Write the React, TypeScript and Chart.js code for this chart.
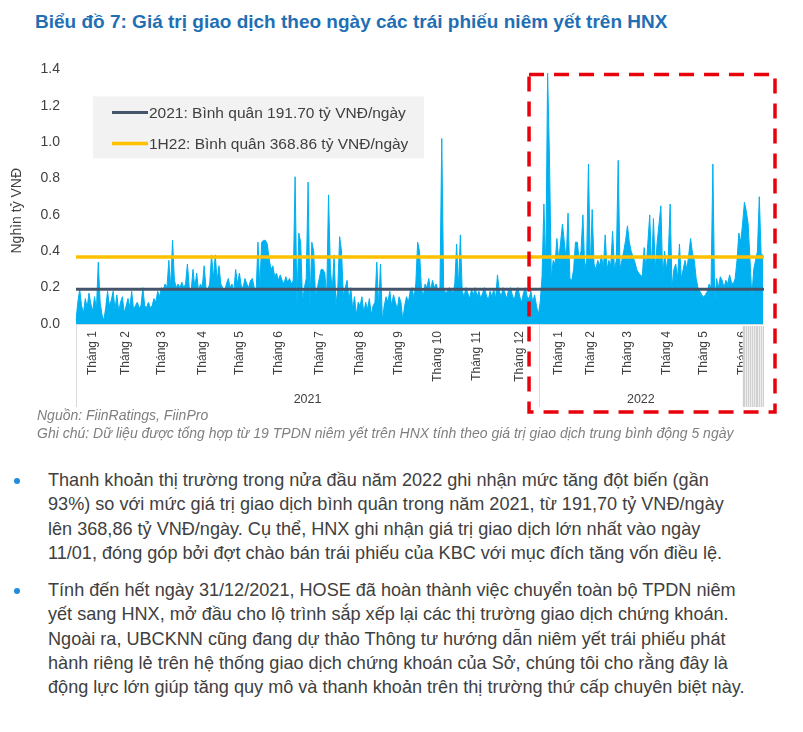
import React, { useEffect, useRef } from 'react';
import { Chart, registerables } from 'chart.js';

Chart.register(...registerables);

const FONT = '"Liberation Sans", Arial, Helvetica, sans-serif';

// ---- data (Nghìn tỷ VNĐ, 5-day moving average, one value per trading day) ----
const monthNames = ['Tháng 1', 'Tháng 2', 'Tháng 3', 'Tháng 4', 'Tháng 5', 'Tháng 6', 'Tháng 7', 'Tháng 8', 'Tháng 9', 'Tháng 10', 'Tháng 11', 'Tháng 12'];
const yearNames = ['2021', '2022'];

const jan21 = [0.02, 0.12, 0.19, 0.1, 0.06, 0.14, 0.09, 0.17, 0.11, 0.07, 0.15, 0.08, 0.34, 0.12, 0.05, 0.02, 0.09, 0.18, 0.1, 0.13];
const feb21 = [0.18, 0.08, 0.16, 0.07, 0.12, 0.15, 0.06, 0.1, 0.14, 0.09, 0.18, 0.08, 0.1, 0.12, 0.09];
const mar21 = [0.1, 0.2, 0.1, 0.09, 0.12, 0.09, 0.1, 0.14, 0.12, 0.18, 0.15, 0.2, 0.19, 0.22, 0.2, 0.35, 0.2, 0.46, 0.24, 0.2, 0.22, 0.2, 0.23];
const apr21 = [0.2, 0.22, 0.33, 0.2, 0.18, 0.3, 0.2, 0.28, 0.18, 0.22, 0.2, 0.32, 0.2, 0.19, 0.22, 0.38, 0.25, 0.38, 0.24, 0.32, 0.22];
const may21 = [0.2, 0.18, 0.22, 0.25, 0.2, 0.22, 0.18, 0.3, 0.22, 0.28, 0.21, 0.2, 0.25, 0.22, 0.2, 0.24, 0.25, 0.2, 0.17, 0.45];
const jun21 = [0.2, 0.45, 0.46, 0.46, 0.44, 0.36, 0.3, 0.32, 0.26, 0.28, 0.24, 0.27, 0.24, 0.22, 0.26, 0.23, 0.25, 0.22, 0.24, 0.81, 0.1, 0.5];
const jul21 = [0.45, 0.12, 0.2, 0.25, 0.78, 0.1, 0.45, 0.4, 0.15, 0.2, 0.25, 0.3, 0.3, 0.28, 0.14, 0.71, 0.3, 0.18, 0.38, 0.1, 0.2, 0.48];
const aug21 = [0.4, 0.15, 0.2, 0.24, 0.13, 0.2, 0.08, 0.15, 0.05, 0.12, 0.1, 0.15, 0.06, 0.12, 0.08, 0.14, 0.05, 0.1, 0.12, 0.34, 0.1, 0.33];
const sep21 = [0.02, 0.1, 0.15, 0.12, 0.18, 0.1, 0.16, 0.12, 0.08, 0.15, 0.12, 0.02, 0.1, 0.15, 0.12, 0.18, 0.2, 0.14, 0.22, 0.45];
const oct21 = [0.4, 0.2, 0.15, 0.22, 0.2, 0.25, 0.18, 0.24, 0.2, 0.22, 0.18, 0.19, 1.02, 0.2, 0.17, 0.18, 0.2, 0.19, 0.17, 0.22, 0.44];
const nov21 = [0.2, 0.49, 0.18, 0.15, 0.2, 0.17, 0.14, 0.19, 0.16, 0.2, 0.15, 0.18, 0.14, 0.17, 0.2, 0.16, 0.13, 0.18, 0.15, 0.19, 0.14, 0.27];
const dec21 = [0.18, 0.15, 0.2, 0.17, 0.14, 0.19, 0.2, 0.16, 0.13, 0.18, 0.2, 0.15, 0.12, 0.17, 0.2, 0.15, 0.14, 0.18, 0.12, 0.16, 0.1, 0.05, 0.12];

const jan22 = [0.26, 0.66, 0.3, 1.38, 0.91, 0.25, 0.35, 0.33, 0.47, 0.35, 0.45, 0.55, 0.45, 0.35, 0.61, 0.25, 0.24, 0.3, 0.45];
const feb22 = [0.45, 0.35, 0.4, 0.6, 0.3, 0.35, 0.88, 0.3, 0.63, 0.33, 0.3, 0.35, 0.32, 0.38, 0.3, 0.49];
const mar22 = [0.3, 0.35, 0.32, 0.51, 0.3, 0.35, 0.9, 0.3, 0.35, 0.4, 0.46, 0.54, 0.45, 0.4, 0.37, 0.34, 0.3, 0.28, 0.27, 0.26, 0.42, 0.3, 0.45];
const apr22 = [0.6, 0.3, 0.58, 0.3, 0.45, 0.55, 0.65, 0.25, 0.4, 0.3, 0.38, 0.66, 0.2, 0.3, 0.33, 0.25, 0.44, 0.25, 0.3, 0.35];
const may22 = [0.3, 0.38, 0.47, 0.39, 0.35, 0.25, 0.2, 0.18, 0.16, 0.15, 0.16, 0.18, 0.22, 0.2, 0.88, 0.12, 0.25, 0.2, 0.26, 0.24];
const jun22 = [0.2, 0.24, 0.22, 0.27, 0.23, 0.22, 0.25, 0.35, 0.5, 0.45, 0.55, 0.67, 0.62, 0.55, 0.35, 0.15, 0.3, 0.35, 0.4, 0.7, 0.38, 0.38];

const months2021 = [jan21, feb21, mar21, apr21, may21, jun21, jul21, aug21, sep21, oct21, nov21, dec21];
const months2022 = [jan22, feb22, mar22, apr22, may22, jun22];

const avg2021 = 0.1917;
const avg1H22 = 0.36886;
const legendLabels = ['2021: Bình quân 191.70 tỷ VNĐ/ngày', '1H22: Bình quân 368.86 tỷ VNĐ/ngày'];
const yAxisTitle = 'Nghìn tỷ VNĐ';
const yMax = 1.4;
const yStep = 0.2;
const trailingBlankTicks = 12;

// ---- colours ----
const AREA = '#00B0F0';
const DARK = '#44546A';
const GOLD = '#FFC000';
const TEXT = '#404040';

// ---- derived category table ----
const categories: string[] = [];
const values: number[] = [];
const monthLabelAt = new Map<number, string>();
const yearStarts: number[] = [];
[months2021, months2022].forEach((months, yi) => {
  yearStarts.push(categories.length);
  months.forEach((arr, mi) => {
    const start = categories.length;
    monthLabelAt.set(start + Math.floor((arr.length - 1) / 2), monthNames[mi]);
    arr.forEach((v, d) => {
      categories.push(`${yearNames[yi]}-${mi + 1}-${d + 1}`);
      values.push(v);
    });
  });
});

const decorPlugin = {
  id: 'decor',
  afterDatasetsDraw(chart: any) {
    const { ctx, chartArea: a, scales } = chart;
    const y = scales.y;
    const lines = [
      { v: avg2021, color: DARK, w: 3 },
      { v: avg1H22, color: GOLD, w: 3.5 },
    ];
    ctx.save();
    lines.forEach((l) => {
      const py = y.getPixelForValue(l.v);
      ctx.strokeStyle = l.color;
      ctx.lineWidth = l.w;
      ctx.beginPath();
      ctx.moveTo(a.left, py);
      ctx.lineTo(a.right + 1, py);
      ctx.stroke();
    });
    // legend box
    const bx = a.left + 17;
    const by = a.top + 27;
    ctx.fillStyle = '#F2F2F2';
    ctx.fillRect(bx, by, 331, 62);
    ctx.font = `15.5px ${FONT}`;
    ctx.textBaseline = 'middle';
    ctx.textAlign = 'left';
    lines.forEach((l, i) => {
      const ly = by + 16 + i * 31;
      ctx.strokeStyle = l.color;
      ctx.lineWidth = l.w;
      ctx.beginPath();
      ctx.moveTo(bx + 19, ly);
      ctx.lineTo(bx + 55, ly);
      ctx.stroke();
      ctx.fillStyle = TEXT;
      ctx.fillText(legendLabels[i], bx + 56, ly + 1);
    });
    ctx.restore();
  },
  afterDraw(chart: any) {
    const { ctx, chartArea: a, scales } = chart;
    const x = scales.x;
    const y = scales.y;
    const n = categories.length;
    ctx.save();
    // y title
    ctx.save();
    ctx.translate(17, (a.top + a.bottom) / 2 + 14);
    ctx.rotate(-Math.PI / 2);
    ctx.font = `14px ${FONT}`;
    ctx.fillStyle = TEXT;
    ctx.textAlign = 'center';
    ctx.textBaseline = 'middle';
    ctx.fillText(yAxisTitle, 0, 0);
    ctx.restore();

    // hatch of trailing ticks
    const hatchStart = n - trailingBlankTicks;
    const hatchLeft = x.getPixelForValue(hatchStart);
    ctx.fillStyle = '#EDEDED';
    ctx.fillRect(hatchLeft, a.bottom + 2, a.right - hatchLeft + 1, 81);
    ctx.strokeStyle = '#D0D0D0';
    ctx.lineWidth = 1;
    for (let i = hatchStart; i < n; i++) {
      const px = Math.round(x.getPixelForValue(i)) + 0.5;
      ctx.beginPath();
      ctx.moveTo(px, a.bottom + 2);
      ctx.lineTo(px, a.bottom + 83);
      ctx.stroke();
    }
    // group separators
    const sep = (x.getPixelForValue(yearStarts[1] - 1) + x.getPixelForValue(yearStarts[1])) / 2 - 2;
    ctx.strokeStyle = '#D9D9D9';
    [a.left, sep].forEach((px) => {
      ctx.beginPath();
      ctx.moveTo(Math.round(px) + 0.5, a.bottom);
      ctx.lineTo(Math.round(px) + 0.5, a.bottom + 83);
      ctx.stroke();
    });
    // year labels
    ctx.font = `12.5px ${FONT}`;
    ctx.fillStyle = TEXT;
    ctx.textAlign = 'center';
    ctx.textBaseline = 'middle';
    ctx.fillText(yearNames[0], (a.left + sep) / 2, a.bottom + 76);
    ctx.fillText(yearNames[1], (sep + hatchLeft) / 2, a.bottom + 76);

    // red dashed highlight box
    const left = x.getPixelForValue(yearStarts[1]) - 13;
    const top = y.getPixelForValue(yMax) + 5;
    const right = a.right + 12;
    const bottom = a.bottom + 88;
    ctx.strokeStyle = '#E8000B';
    ctx.lineWidth = 3.5;
    ctx.setLineDash([15, 10]);
    ctx.strokeRect(left, top, right - left, bottom - top);
    ctx.restore();
  },
};

function ChartBlock() {
  const ref = useRef<HTMLCanvasElement | null>(null);
  useEffect(() => {
    if (!ref.current) return;
    const chart = new Chart(ref.current, {
      type: 'line',
      data: {
        labels: categories,
        datasets: [
          {
            label: 'HNX',
            data: values,
            fill: 'origin',
            backgroundColor: AREA,
            borderColor: AREA,
            borderWidth: 1,
            pointRadius: 0,
            tension: 0,
          },
        ],
      },
      options: {
        responsive: false,
        animation: false,
        devicePixelRatio: 1,
        layout: { padding: { top: 13, right: 40, left: 0, bottom: 0 } },
        plugins: { legend: { display: false }, tooltip: { enabled: false } },
        scales: {
          x: {
            type: 'category',
            offset: false,
            grid: { display: false, drawTicks: false },
            border: { display: true, color: '#D9D9D9' },
            ticks: {
              autoSkip: false,
              minRotation: 90,
              maxRotation: 90,
              padding: 7,
              color: TEXT,
              font: { family: FONT, size: 12 },
              callback: (_v: any, i: number) => monthLabelAt.get(i) ?? '',
            },
            afterFit: (s: any) => {
              s.height = 95;
            },
          },
          y: {
            min: 0,
            max: yMax,
            grid: { display: false, drawTicks: false },
            border: { display: false },
            ticks: {
              stepSize: yStep,
              padding: 16,
              color: TEXT,
              font: { family: FONT, size: 14 },
              callback: (v: any) => Number(v).toFixed(1),
            },
            afterFit: (s: any) => {
              s.width = 76;
            },
          },
        },
      },
      plugins: [decorPlugin],
    } as any);
    return () => chart.destroy();
  }, []);
  return <canvas ref={ref} width={803} height={374} style={{ position: 'absolute', left: 0, top: 45, width: 803, height: 374 }} />;
}

const bullet1 = [
  'Thanh khoản thị trường trong nửa đầu năm 2022 ghi nhận mức tăng đột biến (gần',
  '93%) so với mức giá trị giao dịch bình quân trong năm 2021, từ 191,70 tỷ VNĐ/ngày',
  'lên 368,86 tỷ VNĐ/ngày. Cụ thể, HNX ghi nhận giá trị giao dịch lớn nhất vào ngày',
  '11/01, đóng góp bởi đợt chào bán trái phiếu của KBC với mục đích tăng vốn điều lệ.',
];
const bullet2 = [
  'Tính đến hết ngày 31/12/2021, HOSE đã hoàn thành việc chuyển toàn bộ TPDN niêm',
  'yết sang HNX, mở đầu cho lộ trình sắp xếp lại các thị trường giao dịch chứng khoán.',
  'Ngoài ra, UBCKNN cũng đang dự thảo Thông tư hướng dẫn niêm yết trái phiếu phát',
  'hành riêng lẻ trên hệ thống giao dịch chứng khoán của Sở, chúng tôi cho rằng đây là',
  'động lực lớn giúp tăng quy mô và thanh khoản trên thị trường thứ cấp chuyên biệt này.',
];

export default function App() {
  const lineStyle = (top: number): React.CSSProperties => ({
    position: 'absolute',
    left: 48,
    top,
    whiteSpace: 'nowrap',
    fontSize: 18.1,
    lineHeight: '24px',
    color: TEXT,
  });
  const dot = (top: number): React.CSSProperties => ({
    position: 'absolute',
    left: 14,
    top,
    width: 6,
    height: 6,
    borderRadius: 3,
    background: '#1E8CE0',
  });
  const noteStyle = (top: number): React.CSSProperties => ({
    position: 'absolute',
    left: 37,
    top,
    fontSize: 14,
    lineHeight: '18px',
    fontStyle: 'italic',
    color: '#7F7F7F',
    whiteSpace: 'nowrap',
  });
  return (
    <div style={{ position: 'absolute', left: 0, top: 0, width: 803, height: 732, background: '#fff', overflow: 'hidden', fontFamily: FONT }}>
      <div style={{ position: 'absolute', left: 35, top: 10, fontSize: 19, lineHeight: '24px', fontWeight: 'bold', color: '#1F6FB4', whiteSpace: 'nowrap' }}>
        Biểu đồ 7: Giá trị giao dịch theo ngày các trái phiếu niêm yết trên HNX
      </div>
      <ChartBlock />
      <div style={noteStyle(406)}>Nguồn: FiinRatings, FiinPro</div>
      <div style={noteStyle(424)}>
        Ghi chú: Dữ liệu được tổng hợp từ 19 TPDN niêm yết trên HNX tính theo giá trị giao dịch trung bình động 5 ngày
      </div>
      <div style={dot(478)} />
      {bullet1.map((t, i) => (
        <div key={'a' + i} style={lineStyle(468 + i * 24.3)}>{t}</div>
      ))}
      <div style={dot(588)} />
      {bullet2.map((t, i) => (
        <div key={'b' + i} style={lineStyle(578 + i * 24.3)}>{t}</div>
      ))}
    </div>
  );
}
